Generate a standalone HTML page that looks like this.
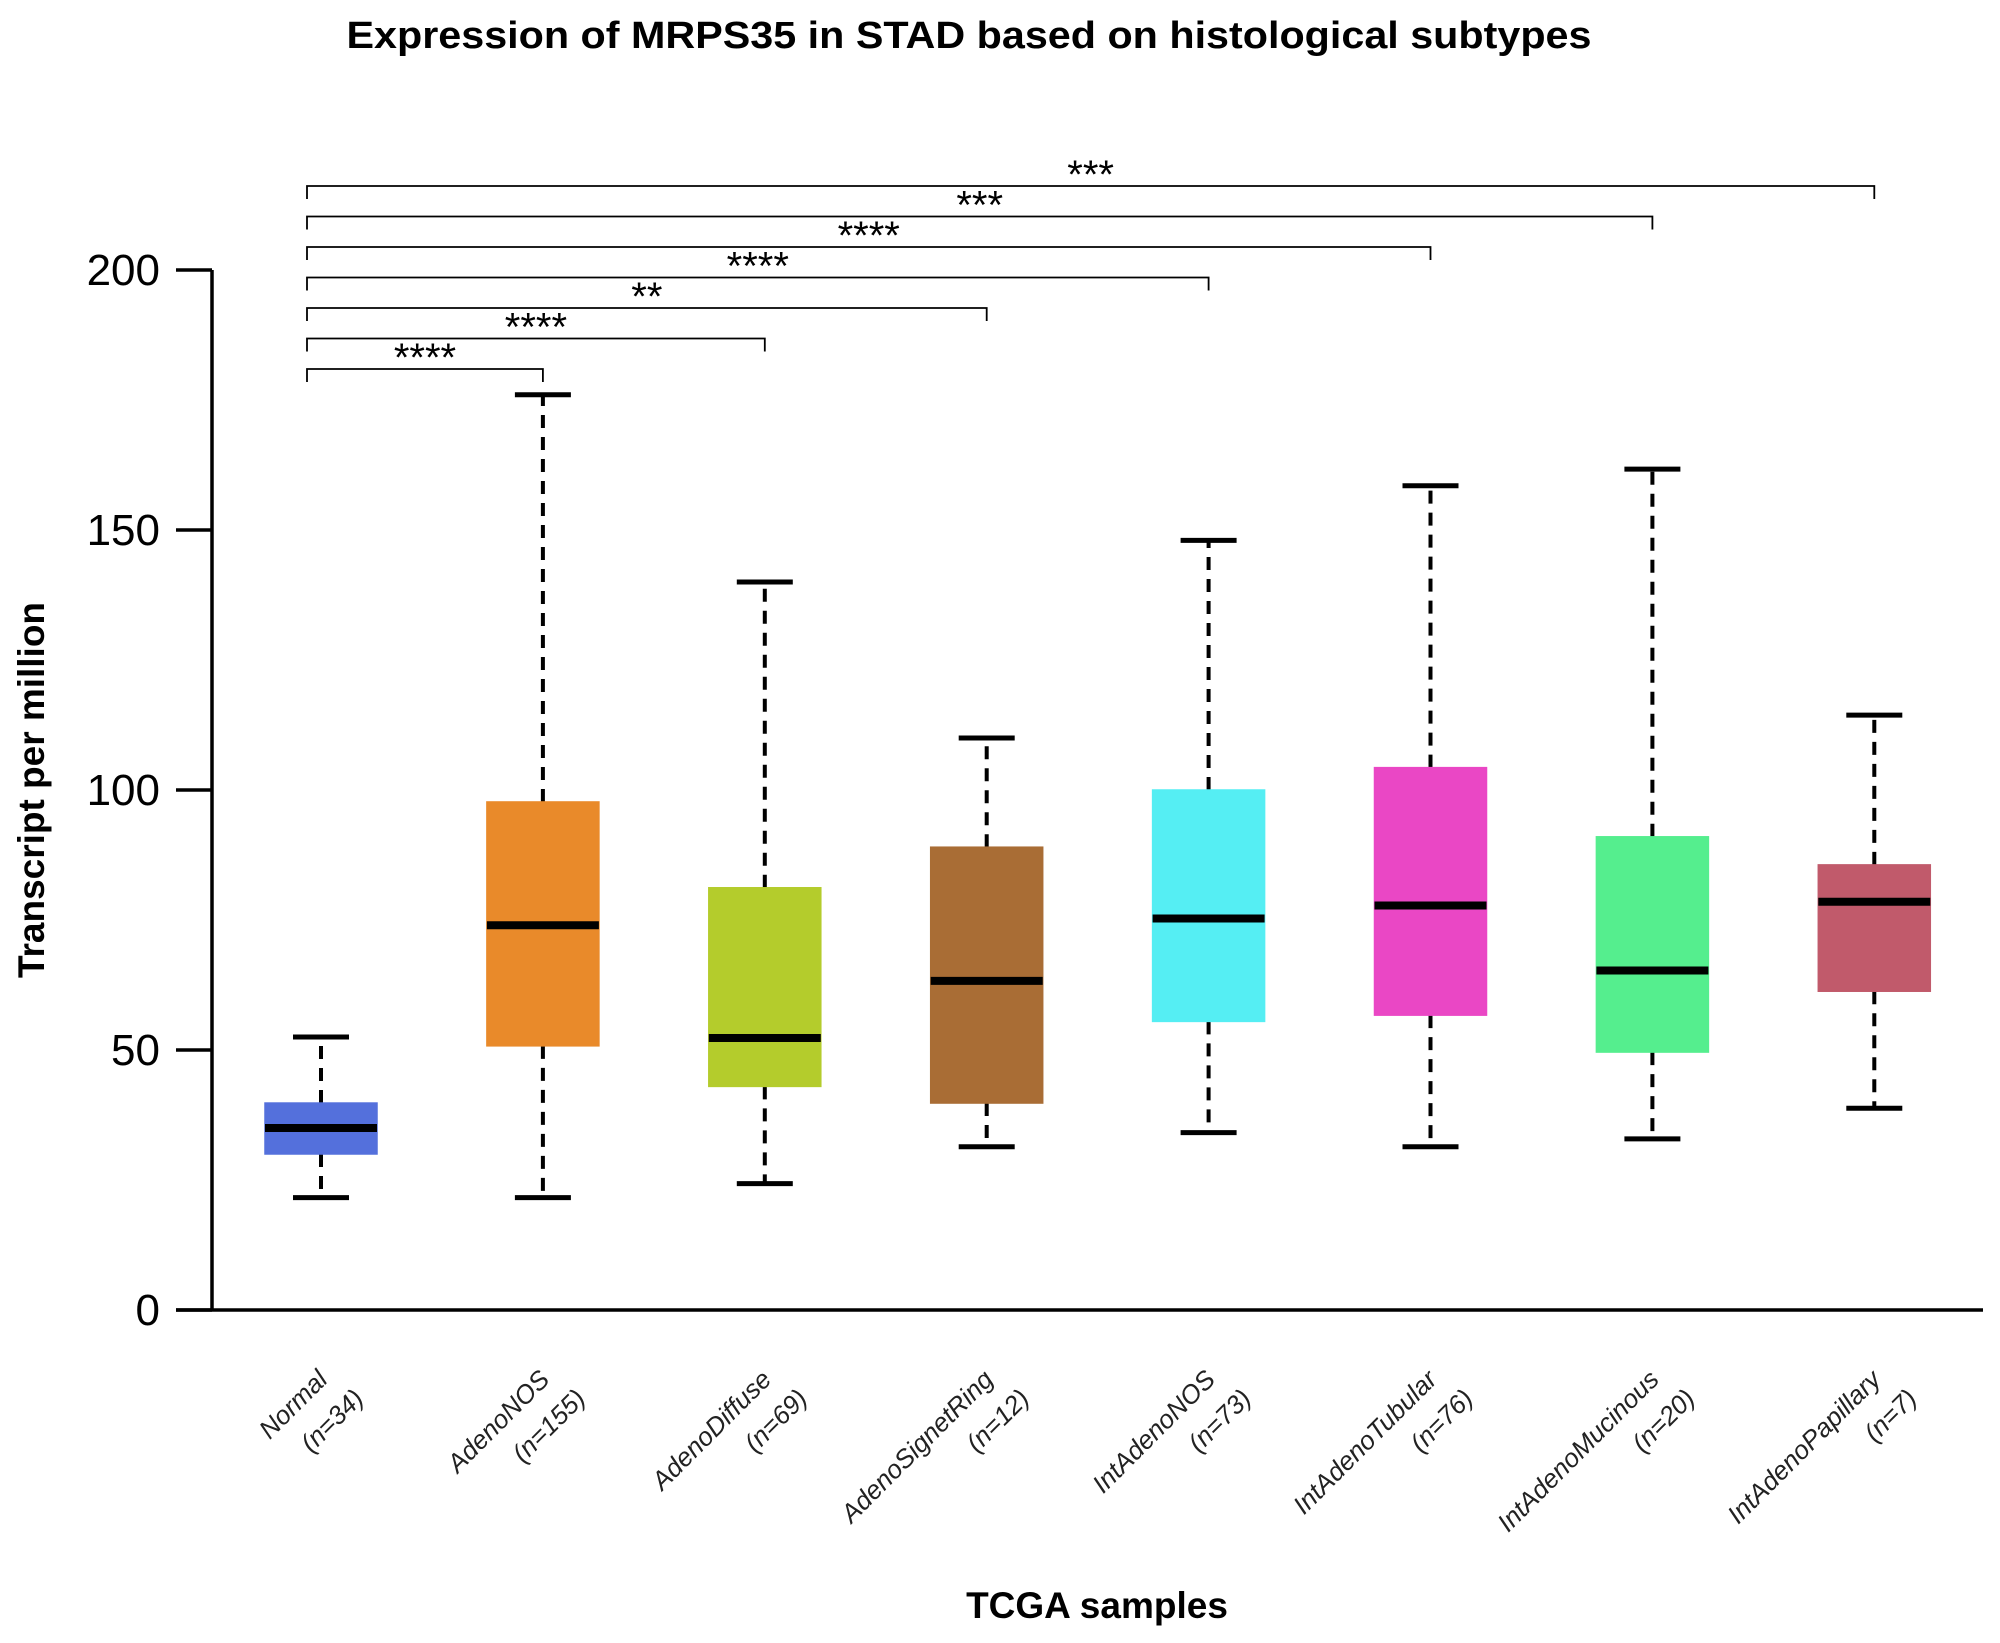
<!DOCTYPE html>
<html><head><meta charset="utf-8"><style>
body{margin:0;background:#fff}
svg{display:block;font-family:"Liberation Sans",sans-serif}
</style></head><body>
<svg id="chart" width="2000" height="1643" viewBox="0 0 2000 1643" xmlns="http://www.w3.org/2000/svg">
<rect width="2000" height="1643" fill="#fff"/>
<text x="969" y="48" text-anchor="middle" font-size="38" font-weight="bold" textLength="1245" lengthAdjust="spacingAndGlyphs">Expression of MRPS35 in STAD based on histological subtypes</text>
<text transform="translate(44,790) rotate(-90)" text-anchor="middle" font-size="37" font-weight="bold" textLength="376" lengthAdjust="spacingAndGlyphs">Transcript per million</text>
<text x="1097" y="1618" text-anchor="middle" font-size="37" font-weight="bold">TCGA samples</text>
<g id="axes"></g><g id="marks"></g><g id="sig"></g>
</svg>
<script>
const categories=["Normal","AdenoNOS","AdenoDiffuse","AdenoSignetRing","IntAdenoNOS","IntAdenoTubular","IntAdenoMucinous","IntAdenoPapillary"];
const counts=[34,155,69,12,73,76,20,7];
const whiskerMin=[21.6,21.6,24.3,31.4,34.1,31.4,32.9,38.8];
const q1=[30,50.8,43,39.8,55.5,56.7,49.6,61.3];
const medians=[35,74,52.3,63.3,75.3,77.8,65.3,78.5];
const q3=[39.8,97.7,81.2,89,100,104.3,91,85.6];
const whiskerMax=[52.5,176,140,110,148,158.5,161.7,114.4];
const colors=["#5470dc","#e98a2a","#b4cc2c","#a96d35","#55eef3","#ea47c5","#55ee8e","#c15a6b"];
const yTicks=[0,50,100,150,200];
const sigTargets=[1,2,3,4,5,6,7];
const sigLabels=["****","****","**","****","****","***","***"];

const NS="http://www.w3.org/2000/svg";
const y=v=>1310-v*(1310-270)/200;
const x=i=>321+i*221.9;
function mk(tag,attrs,parent,txt){const e=document.createElementNS(NS,tag);for(const k in attrs)e.setAttribute(k,attrs[k]);if(txt!==undefined)e.textContent=txt;parent.appendChild(e);return e;}
const axes=document.getElementById('axes'),marks=document.getElementById('marks'),sig=document.getElementById('sig');
let e;
e=mk('line',{x1:212,y1:270,x2:212,y2:1311,stroke:'#000','stroke-width':3.5},axes);


e=mk('line',{x1:176,y1:1310,x2:1983,y2:1310,stroke:'#000','stroke-width':3.5},axes);


yTicks.forEach(t=>{
  e=mk('line',{x1:176,y1:y(t),x2:212,y2:y(t),stroke:'#000','stroke-width':3.5},axes);
  
  
  e=mk('text',{x:160,y:y(t)+15,'text-anchor':'end','font-size':44},axes,String(t));
  
  
});
categories.forEach((c,i)=>{
  const cx=x(i),hw=56,cw=28;
  const g=mk('g',{},marks);
  
  
  mk('line',{x1:cx,y1:y(q3[i]),x2:cx,y2:y(whiskerMax[i]),stroke:'#000','stroke-width':4,'stroke-dasharray':'13,9'},g);
  mk('line',{x1:cx,y1:y(q1[i]),x2:cx,y2:y(whiskerMin[i]),stroke:'#000','stroke-width':4,'stroke-dasharray':'13,9'},g);
  mk('line',{x1:cx-cw,y1:y(whiskerMax[i]),x2:cx+cw,y2:y(whiskerMax[i]),stroke:'#000','stroke-width':5},g);
  mk('line',{x1:cx-cw,y1:y(whiskerMin[i]),x2:cx+cw,y2:y(whiskerMin[i]),stroke:'#000','stroke-width':5},g);
  mk('rect',{x:cx-hw,y:y(q3[i]),width:hw*2,height:y(q1[i])-y(q3[i]),fill:colors[i],stroke:colors[i],'stroke-width':1.5},g);
  mk('line',{x1:cx-hw,y1:y(medians[i]),x2:cx+hw,y2:y(medians[i]),stroke:'#000','stroke-width':8},g);
  e=mk('text',{transform:`translate(${cx+8},1381) rotate(-45)`,'text-anchor':'end','font-size':26,'font-style':'italic',fill:'#222'},marks,c);
  
  
  e=mk('text',{transform:`translate(${cx+44},1400) rotate(-45)`,'text-anchor':'end','font-size':26,'font-style':'italic',fill:'#222'},marks,'(n='+counts[i]+')');
  
  
});
sigTargets.forEach((t,k)=>{
  const by=369-k*30.5, x0=307, x1=x(t);
  const g=mk('g',{},sig);
  
  
  mk('path',{d:`M${x0},${by+13}V${by}H${x1}V${by+13}`,fill:'none',stroke:'#000','stroke-width':1.8},g);
  mk('text',{x:(x0+x1)/2,y:by+2,'text-anchor':'middle','font-size':40},g,sigLabels[k]);
});
</script>
</body></html>
